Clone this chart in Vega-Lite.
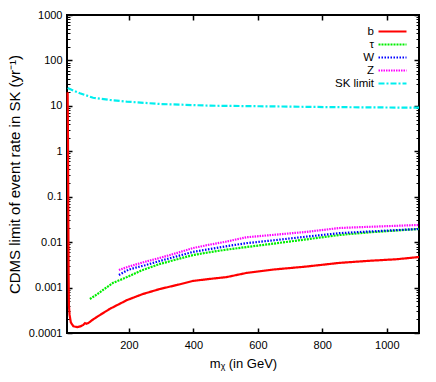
{
  "$schema": "https://vega.github.io/schema/vega-lite/v6.json",
  "width": 352,
  "height": 318,
  "autosize": {"type": "none"},
  "padding": {"left": 67, "top": 15, "right": 17, "bottom": 49},
  "background": "white",
  "config": {
    "view": {"stroke": "black", "strokeWidth": 2},
    "font": "Liberation Sans",
    "axis": {
      "domain": false,
      "grid": false,
      "labelFont": "Liberation Sans",
      "labelFontSize": 11,
      "labelColor": "black",
      "tickColor": "black",
      "tickWidth": 1.5,
      "titleFont": "Liberation Sans",
      "titleFontWeight": "normal",
      "titleColor": "black"
    },
    "legend": {"padding": 0}
  },
  "data": {
    "values": [
      {"s": "b", "m": 10, "v": 20},
      {"s": "b", "m": 11, "v": 2},
      {"s": "b", "m": 12, "v": 0.05},
      {"s": "b", "m": 13, "v": 0.002},
      {"s": "b", "m": 14, "v": 0.0004},
      {"s": "b", "m": 16, "v": 0.00025},
      {"s": "b", "m": 20, "v": 0.00017},
      {"s": "b", "m": 28, "v": 0.00014},
      {"s": "b", "m": 40, "v": 0.000135},
      {"s": "b", "m": 50, "v": 0.00014},
      {"s": "b", "m": 58, "v": 0.00015},
      {"s": "b", "m": 64, "v": 0.000165},
      {"s": "b", "m": 68, "v": 0.00016},
      {"s": "b", "m": 74, "v": 0.000165},
      {"s": "b", "m": 85, "v": 0.00019},
      {"s": "b", "m": 100, "v": 0.000224},
      {"s": "b", "m": 141, "v": 0.00034},
      {"s": "b", "m": 194, "v": 0.00053},
      {"s": "b", "m": 243, "v": 0.00072},
      {"s": "b", "m": 296, "v": 0.00093},
      {"s": "b", "m": 349, "v": 0.00114},
      {"s": "b", "m": 399, "v": 0.0014},
      {"s": "b", "m": 451, "v": 0.00155},
      {"s": "b", "m": 503, "v": 0.0017},
      {"s": "b", "m": 565, "v": 0.0021},
      {"s": "b", "m": 650, "v": 0.0025},
      {"s": "b", "m": 750, "v": 0.0029},
      {"s": "b", "m": 854, "v": 0.0035},
      {"s": "b", "m": 950, "v": 0.0039},
      {"s": "b", "m": 1030, "v": 0.0042},
      {"s": "b", "m": 1100, "v": 0.0047},
      {"s": "τ", "m": 79, "v": 0.00056},
      {"s": "τ", "m": 100, "v": 0.0007},
      {"s": "τ", "m": 120, "v": 0.00089},
      {"s": "τ", "m": 150, "v": 0.00126},
      {"s": "τ", "m": 194, "v": 0.0017},
      {"s": "τ", "m": 240, "v": 0.0024},
      {"s": "τ", "m": 296, "v": 0.0033},
      {"s": "τ", "m": 350, "v": 0.0042},
      {"s": "τ", "m": 399, "v": 0.0052},
      {"s": "τ", "m": 450, "v": 0.006},
      {"s": "τ", "m": 500, "v": 0.0068},
      {"s": "τ", "m": 565, "v": 0.0078},
      {"s": "τ", "m": 650, "v": 0.0093},
      {"s": "τ", "m": 750, "v": 0.0115},
      {"s": "τ", "m": 854, "v": 0.0144},
      {"s": "τ", "m": 950, "v": 0.0165},
      {"s": "τ", "m": 1100, "v": 0.0195},
      {"s": "W", "m": 169, "v": 0.0019},
      {"s": "W", "m": 200, "v": 0.0025},
      {"s": "W", "m": 250, "v": 0.0031},
      {"s": "W", "m": 296, "v": 0.00385},
      {"s": "W", "m": 350, "v": 0.0049},
      {"s": "W", "m": 399, "v": 0.0061},
      {"s": "W", "m": 450, "v": 0.007},
      {"s": "W", "m": 500, "v": 0.0081},
      {"s": "W", "m": 565, "v": 0.0095},
      {"s": "W", "m": 650, "v": 0.011},
      {"s": "W", "m": 750, "v": 0.0132},
      {"s": "W", "m": 854, "v": 0.0158},
      {"s": "W", "m": 950, "v": 0.0172},
      {"s": "W", "m": 1100, "v": 0.0195},
      {"s": "Z", "m": 169, "v": 0.00244},
      {"s": "Z", "m": 200, "v": 0.0029},
      {"s": "Z", "m": 250, "v": 0.0037},
      {"s": "Z", "m": 296, "v": 0.0045},
      {"s": "Z", "m": 350, "v": 0.0058},
      {"s": "Z", "m": 399, "v": 0.0074},
      {"s": "Z", "m": 450, "v": 0.0088},
      {"s": "Z", "m": 500, "v": 0.0102},
      {"s": "Z", "m": 565, "v": 0.0128},
      {"s": "Z", "m": 650, "v": 0.0145},
      {"s": "Z", "m": 750, "v": 0.0168},
      {"s": "Z", "m": 854, "v": 0.0205},
      {"s": "Z", "m": 950, "v": 0.0218},
      {"s": "Z", "m": 1100, "v": 0.0239},
      {"s": "SK limit", "m": 10, "v": 24.7},
      {"s": "SK limit", "m": 17, "v": 23.5},
      {"s": "SK limit", "m": 48, "v": 18.9},
      {"s": "SK limit", "m": 89, "v": 15.1},
      {"s": "SK limit", "m": 141, "v": 13.5},
      {"s": "SK limit", "m": 193, "v": 12.4},
      {"s": "SK limit", "m": 296, "v": 11.0},
      {"s": "SK limit", "m": 451, "v": 10.1},
      {"s": "SK limit", "m": 606, "v": 9.8},
      {"s": "SK limit", "m": 813, "v": 9.4},
      {"s": "SK limit", "m": 1100, "v": 9.1}
    ]
  },
  "layer": [
    {
      "mark": {"type": "line", "strokeWidth": 2.2},
      "encoding": {
        "x": {
          "field": "m", "type": "quantitative",
          "scale": {"domain": [8, 1100], "nice": false, "zero": false},
          "axis": {"orient": "bottom", "values": [200, 400, 600, 800, 1000], "format": "d", "tickSize": -5, "labelPadding": 11, "title": "mᵪ (in GeV)", "titleFontSize": 13, "titlePadding": 7}
        },
        "y": {
          "field": "v", "type": "quantitative",
          "scale": {"type": "log", "domain": [0.0001, 1000], "nice": false},
          "axis": {"orient": "left", "values": [0.0001, 0.001, 0.01, 0.1, 1, 10, 100, 1000], "format": "~g", "tickSize": -5, "labelPadding": 10, "title": "CDMS limit of event rate in SK (yr⁻¹)", "titleFontSize": 15, "titlePadding": 6}
        },
        "color": {
          "field": "s", "type": "nominal",
          "scale": {"domain": ["b", "τ", "W", "Z", "SK limit"], "range": ["#ff0000", "#00ee00", "#0000ff", "#ff00ff", "#00eeee"]},
          "legend": {"orient": "none", "legendX": 318, "legendY": 9, "title": null, "symbolType": "M-2.333,0H2.333", "symbolSize": 144, "symbolStrokeWidth": 2.2, "labelAlign": "right", "labelOffset": -26, "labelFontSize": 11.5, "labelColor": "black", "rowPadding": 0}
        },
        "strokeDash": {
          "field": "s", "type": "nominal",
          "scale": {"domain": ["b", "τ", "W", "Z", "SK limit"], "range": [[1, 0], [2, 1], [1.5, 1.5], [1.5, 1], [6, 2, 2, 2]]},
          "legend": {"orient": "none", "legendX": 318, "legendY": 9, "title": null, "symbolType": "M-2.333,0H2.333", "symbolSize": 144, "symbolStrokeWidth": 2.2, "labelAlign": "right", "labelOffset": -26, "labelFontSize": 11.5, "labelColor": "black", "rowPadding": 0}
        }
      }
    },
    {
      "mark": {"type": "point", "opacity": 0},
      "encoding": {
        "x": {"field": "m", "type": "quantitative", "axis": {"orient": "top", "values": [200, 400, 600, 800, 1000], "labels": false, "tickSize": -5, "title": null}},
        "y": {"field": "v", "type": "quantitative", "axis": {"orient": "right", "values": [0.0001, 0.001, 0.01, 0.1, 1, 10, 100, 1000], "labels": false, "tickSize": -5, "title": null}}
      }
    },
    {
      "mark": {"type": "point", "opacity": 0},
      "encoding": {
        "x": {"field": "m", "type": "quantitative", "axis": null},
        "y": {"field": "v", "type": "quantitative", "axis": {"orient": "left", "values": [0.0002, 0.0003, 0.0004, 0.0005, 0.0006, 0.0007, 0.0008, 0.0009, 0.002, 0.003, 0.004, 0.005, 0.006, 0.007, 0.008, 0.009, 0.02, 0.03, 0.04, 0.05, 0.06, 0.07, 0.08, 0.09, 0.2, 0.3, 0.4, 0.5, 0.6, 0.7, 0.8, 0.9, 2, 3, 4, 5, 6, 7, 8, 9, 20, 30, 40, 50, 60, 70, 80, 90, 200, 300, 400, 500, 600, 700, 800, 900], "labels": false, "tickSize": -3, "tickWidth": 1, "title": null}}
      }
    },
    {
      "mark": {"type": "point", "opacity": 0},
      "encoding": {
        "x": {"field": "m", "type": "quantitative", "axis": null},
        "y": {"field": "v", "type": "quantitative", "axis": {"orient": "right", "values": [0.0002, 0.0003, 0.0004, 0.0005, 0.0006, 0.0007, 0.0008, 0.0009, 0.002, 0.003, 0.004, 0.005, 0.006, 0.007, 0.008, 0.009, 0.02, 0.03, 0.04, 0.05, 0.06, 0.07, 0.08, 0.09, 0.2, 0.3, 0.4, 0.5, 0.6, 0.7, 0.8, 0.9, 2, 3, 4, 5, 6, 7, 8, 9, 20, 30, 40, 50, 60, 70, 80, 90, 200, 300, 400, 500, 600, 700, 800, 900], "labels": false, "tickSize": -3, "tickWidth": 1, "title": null}}
      }
    }
  ],
  "resolve": {"axis": {"x": "independent", "y": "independent"}}
}
